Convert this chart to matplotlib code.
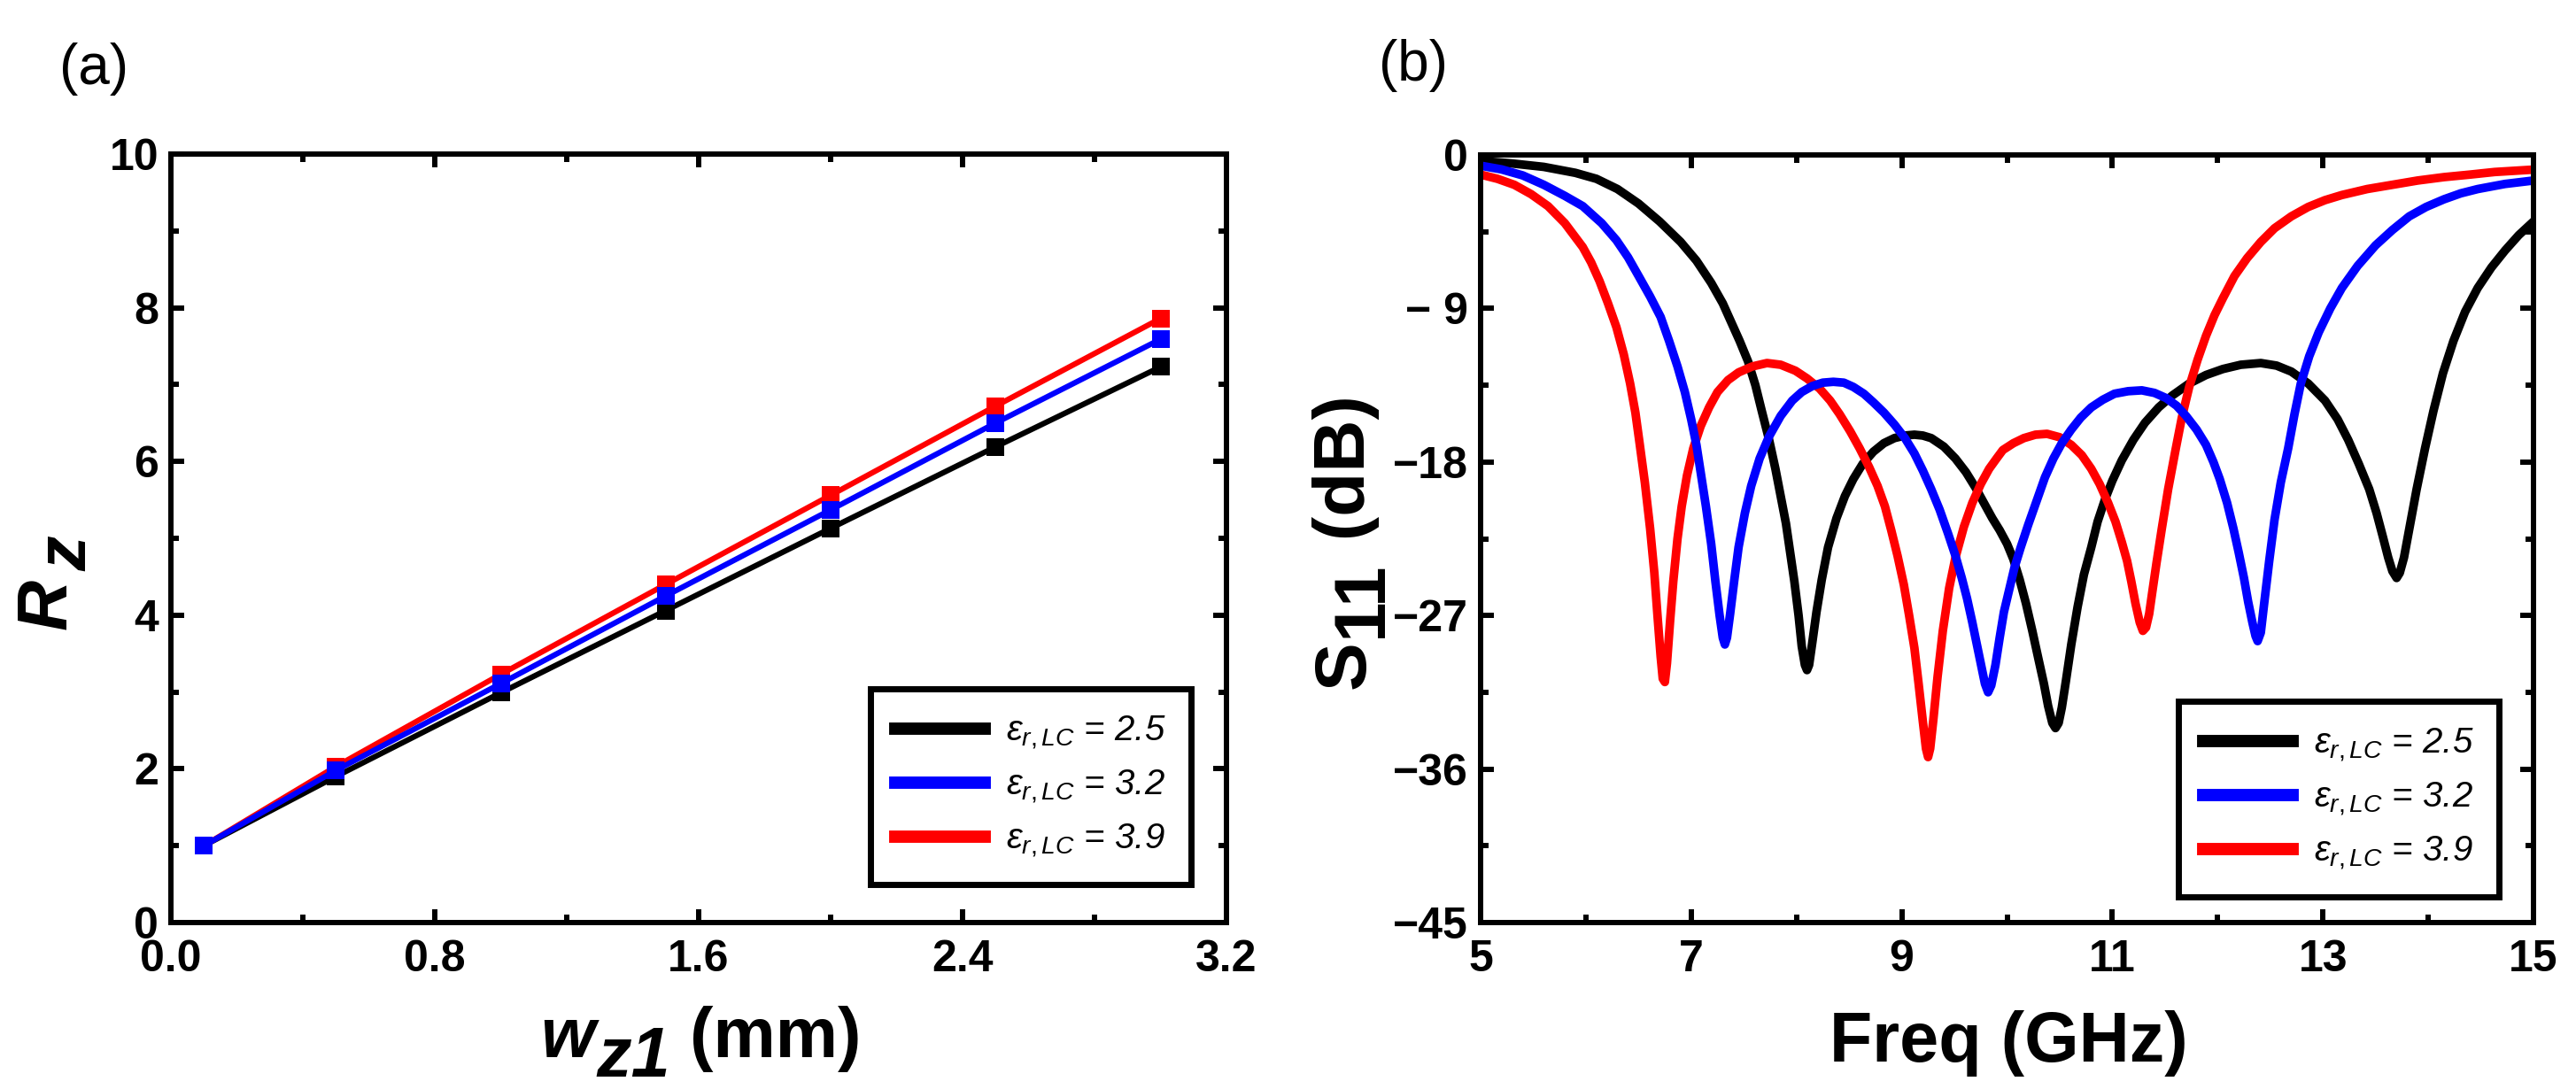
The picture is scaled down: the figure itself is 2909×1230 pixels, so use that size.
import matplotlib
matplotlib.use('Agg')
import matplotlib.pyplot as plt
from matplotlib.lines import Line2D
from matplotlib.ticker import MultipleLocator
from matplotlib.transforms import IdentityTransform

# ---- panel (a): R_z versus w_z1 ----
w_z1 = [0.1, 0.5, 1.0, 1.5, 2.0, 2.5, 3.0]
rz_25 = [1.0, 1.9, 2.99, 4.06, 5.13, 6.19, 7.23]
rz_32 = [1.0, 1.98, 3.11, 4.25, 5.37, 6.50, 7.59]
rz_39 = [1.0, 2.03, 3.23, 4.40, 5.56, 6.72, 7.86]

# ---- panel (b): S11 (dB) versus frequency (GHz) ----
f_25 = [5.00, 5.30, 5.60, 5.90, 6.10, 6.30, 6.50, 6.70, 6.90, 7.05, 7.19, 7.30,
        7.38, 7.46, 7.54, 7.61, 7.67, 7.74, 7.80, 7.85, 7.90, 7.94, 7.98, 8.02,
        8.05, 8.08, 8.10, 8.12, 8.15, 8.19, 8.24, 8.30, 8.38, 8.46, 8.54, 8.63,
        8.73, 8.83, 8.93, 9.03, 9.12, 9.20, 9.28, 9.40, 9.51, 9.61, 9.70, 9.78,
        9.86, 9.93, 10.00, 10.06, 10.12, 10.18, 10.24, 10.30, 10.35, 10.39, 10.43,
        10.46, 10.49, 10.52, 10.56, 10.61, 10.67, 10.73, 10.80, 10.86, 10.93, 11.00,
        11.09, 11.20, 11.31, 11.44, 11.57, 11.73, 11.89, 12.05, 12.22, 12.41, 12.56,
        12.70, 12.86, 13.02, 13.14, 13.24, 13.34, 13.44, 13.51, 13.57, 13.62, 13.66,
        13.70, 13.73, 13.77, 13.83, 13.89, 13.97, 14.05, 14.14, 14.24, 14.35, 14.47,
        14.60, 14.73, 14.86, 15.00]
s_25 = [-0.35, -0.5, -0.7, -1.05, -1.4, -2.0, -2.85, -3.9, -5.1, -6.2, -7.5, -8.7,
        -9.8, -10.9, -12.1, -13.5, -15.0, -16.7, -18.4, -20.0, -21.6, -23.3, -25.0, -27.0,
        -28.8, -29.9, -30.2, -29.9, -28.6, -26.8, -24.9, -23.0, -21.3, -20.0, -19.0, -18.1,
        -17.4, -16.9, -16.6, -16.45, -16.4, -16.45, -16.6, -17.1, -17.8, -18.6, -19.5, -20.4,
        -21.3, -22.0, -22.8, -23.7, -24.9, -26.3, -27.9, -29.6, -31.0, -32.3, -33.3,
        -33.6, -33.3, -32.4, -30.8, -28.7, -26.5, -24.6, -23.0, -21.5, -20.2, -19.1,
        -17.9, -16.7, -15.7, -14.8, -14.1, -13.4, -12.9, -12.55, -12.3, -12.2, -12.35,
        -12.7, -13.4, -14.4, -15.5, -16.7, -18.1, -19.6, -21.0, -22.4, -23.6, -24.4,
        -24.8, -24.5, -23.6, -21.6, -19.6, -17.2, -15.0, -12.8, -10.9, -9.2, -7.8,
        -6.6, -5.6, -4.7, -3.9]

f_32 = [5.00, 5.20, 5.40, 5.60, 5.80, 5.97, 6.15, 6.29, 6.40, 6.51, 6.61, 6.71,
        6.79, 6.87, 6.94, 7.00, 7.05, 7.09, 7.14, 7.19, 7.23, 7.27, 7.30, 7.32,
        7.34, 7.37, 7.41, 7.45, 7.51, 7.57, 7.65, 7.74, 7.85, 7.96, 8.05, 8.15,
        8.25, 8.35, 8.45, 8.54, 8.64, 8.73, 8.83, 8.93, 9.03, 9.12, 9.20, 9.28,
        9.36, 9.44, 9.51, 9.57, 9.62, 9.67, 9.72, 9.76, 9.79, 9.82, 9.85, 9.89,
        9.93, 9.97, 10.02, 10.07, 10.13, 10.20, 10.28, 10.36, 10.44, 10.52, 10.61,
        10.70, 10.80, 10.91, 11.02, 11.15, 11.28, 11.40, 11.51, 11.61, 11.70, 11.80,
        11.89, 11.96, 12.02, 12.09, 12.15, 12.20, 12.25, 12.29, 12.33, 12.36, 12.38,
        12.41, 12.44, 12.49, 12.54, 12.60, 12.67, 12.73, 12.79, 12.87, 12.96, 13.07,
        13.18, 13.33, 13.50, 13.66, 13.82, 13.98, 14.15, 14.31, 14.47, 14.73, 15.00]
s_32 = [-0.63, -0.85, -1.2, -1.75, -2.4, -3.0, -4.0, -5.0, -6.0, -7.2, -8.3, -9.5,
        -10.9, -12.4, -13.9, -15.5, -17.0, -18.6, -20.6, -22.8, -25.0, -27.0, -28.3, -28.7,
        -28.3, -26.9, -24.9, -23.0, -21.0, -19.4, -17.8, -16.5, -15.3, -14.4, -13.9, -13.55,
        -13.35, -13.3, -13.35, -13.6, -14.0, -14.5, -15.1, -15.8, -16.6, -17.5, -18.5, -19.6,
        -20.8, -22.2, -23.5, -24.8, -26.0, -27.4, -28.9, -30.1, -31.0, -31.5, -31.1, -29.9,
        -28.3, -26.8, -25.5, -24.2, -23.0, -21.7, -20.3, -18.9, -17.8, -16.9, -16.1,
        -15.4, -14.8, -14.35, -14.0, -13.85, -13.8, -13.95, -14.25, -14.7, -15.3, -16.1,
        -17.0, -18.0, -19.0, -20.4, -21.9, -23.3, -24.8, -26.2, -27.4, -28.2, -28.5,
        -28.0, -26.4, -23.8, -21.4, -19.2, -17.2, -15.2, -13.4, -11.8, -10.4, -9.0,
        -7.8, -6.5, -5.3, -4.4, -3.6, -3.05, -2.6, -2.25, -2.0, -1.7, -1.5]

f_39 = [5.00, 5.16, 5.32, 5.48, 5.64, 5.80, 5.97, 6.05, 6.13, 6.21, 6.29, 6.36,
        6.42, 6.47, 6.51, 6.56, 6.61, 6.65, 6.68, 6.71, 6.73, 6.75, 6.77, 6.80,
        6.83, 6.87, 6.91, 6.96, 7.02, 7.09, 7.17, 7.25, 7.35, 7.45, 7.58, 7.72,
        7.85, 7.99, 8.10, 8.22, 8.32, 8.41, 8.51, 8.60, 8.69, 8.77, 8.84, 8.90,
        8.96, 9.02, 9.07, 9.12, 9.16, 9.20, 9.23, 9.25, 9.27, 9.30, 9.34, 9.39,
        9.45, 9.51, 9.59, 9.67, 9.75, 9.83, 9.90, 9.96, 10.06, 10.16, 10.27, 10.38,
        10.50, 10.61, 10.71, 10.80, 10.88, 10.96, 11.03, 11.09, 11.14, 11.18, 11.22,
        11.26, 11.29, 11.32, 11.35, 11.38, 11.42, 11.47, 11.53, 11.60, 11.66, 11.73,
        11.81, 11.89, 11.97, 12.05, 12.16, 12.28, 12.41, 12.54, 12.70, 12.86, 13.02,
        13.18, 13.42, 13.66, 13.90, 14.15, 14.40, 14.63, 15.00]
s_39 = [-1.15, -1.4, -1.75, -2.3, -3.0, -4.0, -5.4, -6.3, -7.4, -8.7, -10.1, -11.7,
        -13.4, -15.1, -16.9, -19.2, -21.9, -24.5, -27.0, -29.4, -30.7, -30.9, -29.8, -27.3,
        -25.0, -22.5, -20.6, -18.8, -17.2, -15.9, -14.8, -13.9, -13.2, -12.75, -12.4, -12.2,
        -12.3, -12.65, -13.1, -13.7, -14.4, -15.2, -16.2, -17.2, -18.3, -19.4, -20.6, -22.0,
        -23.5, -25.2, -27.0, -28.9, -31.0, -33.2, -34.8, -35.3, -34.8, -33.1, -30.6, -27.9,
        -25.4, -23.6, -21.8, -20.4, -19.3, -18.4, -17.8, -17.3, -16.9, -16.6, -16.4, -16.35,
        -16.55, -17.0, -17.6, -18.4, -19.3, -20.4, -21.5, -22.7, -23.8, -25.0, -26.3,
        -27.4, -27.9, -27.7, -26.9, -25.6, -23.9, -21.9, -19.6, -17.3, -15.4, -13.6,
        -12.0, -10.6, -9.4, -8.4, -7.1, -6.05, -5.1, -4.3, -3.6, -3.05, -2.65,
        -2.35, -2.0, -1.75, -1.5, -1.3, -1.15, -1.0, -0.86]

eps_values = ['2.5', '3.2', '3.9']
colors = ['black', '#0000ff', '#ff0000']

a_xticks = [0.0, 0.8, 1.6, 2.4, 3.2]
a_xticklabels = ['0.0', '0.8', '1.6', '2.4', '3.2']
a_yticks = [0, 2, 4, 6, 8, 10]
b_xticks = [5, 7, 9, 11, 13, 15]
b_yticks = [-45, -36, -27, -18, -9, 0]
b_yticklabels = ['\u221245', '\u221236', '\u221227', '\u221218', '\u2212 9', '0']

plt.rcParams['font.family'] = ['Liberation Sans', 'DejaVu Sans']
plt.rcParams['mathtext.fontset'] = 'custom'
plt.rcParams['mathtext.rm'] = 'Liberation Sans'
plt.rcParams['mathtext.it'] = 'Liberation Sans:italic'

W, H = 2909, 1230
fig = plt.figure(figsize=(W / 100, H / 100), dpi=100)

ax1 = fig.add_axes([193 / W, 1 - 1042 / H, 1192 / W, 868 / H])
ax2 = fig.add_axes([1672 / W, 1 - 1042 / H, 1189 / W, 867 / H])


def style_axes(ax):
    for sp in ax.spines.values():
        sp.set_linewidth(4.3)
    ax.tick_params(which='both', direction='in', top=True, right=True, width=4.3)
    ax.tick_params(which='major', length=11)
    ax.tick_params(which='minor', length=6.5)
    ax.tick_params(axis='x', pad=14)
    ax.tick_params(axis='y', pad=10)
    for lab in ax.get_xticklabels() + ax.get_yticklabels():
        lab.set_fontsize(36)
        lab.set_fontweight('bold')


def make_legend(ax, anchor):
    handles = [Line2D([], [], color=c, lw=10) for c in colors]
    labels = [r'$\varepsilon_{r,LC}$ = ' + v for v in eps_values]
    leg = ax.legend(handles, labels, loc='lower right', bbox_to_anchor=anchor,
                    borderaxespad=0, fancybox=False, framealpha=1,
                    edgecolor='black', handlelength=2.5, handletextpad=0.6,
                    labelspacing=0.47, borderpad=0.7,
                    prop=dict(family='Liberation Sans', style='italic',
                              weight='normal', size=29))
    leg.get_frame().set_linewidth(5)


# panel (a)
for ys, c in [(rz_25, colors[0]), (rz_39, colors[2]), (rz_32, colors[1])]:
    ax1.plot(w_z1, ys, color=c, lw=4.5, marker='s', ms=15, mew=0)
ax1.set_xlim(0, 3.2)
ax1.set_ylim(0, 10)
ax1.set_xticks(a_xticks)
ax1.set_xticklabels(a_xticklabels)
ax1.set_yticks(a_yticks)
ax1.xaxis.set_minor_locator(MultipleLocator(0.4))
ax1.yaxis.set_minor_locator(MultipleLocator(1))
style_axes(ax1)
make_legend(ax1, ((1345 - 193) / 1192, (1042 - 999) / 868))

# panel (b)
for fs, ss, c in [(f_25, s_25, colors[0]), (f_39, s_39, colors[2]), (f_32, s_32, colors[1])]:
    ax2.plot(fs, ss, color=c, lw=7, solid_joinstyle='round')
ax2.set_xlim(5, 15)
ax2.set_ylim(-45, 0)
ax2.set_xticks(b_xticks)
ax2.set_yticks(b_yticks)
ax2.set_yticklabels(b_yticklabels)
ax2.xaxis.set_minor_locator(MultipleLocator(1))
ax2.yaxis.set_minor_locator(MultipleLocator(4.5))
style_axes(ax2)
make_legend(ax2, ((2822 - 1672) / 1189, (1042 - 1013) / 867))


# axis titles with lowered subscripts, laid out piece by piece (pixel coords)
renderer = fig.canvas.get_renderer()


def compound(pieces, center, base, vertical=False, size=57):
    items = []
    for s, drop, gap, kw in pieces:
        t = fig.text(0, 0, s, transform=IdentityTransform(), ha='left',
                     va='baseline', rotation=90 if vertical else 0,
                     rotation_mode='anchor', fontsize=size, **kw)
        bb = t.get_window_extent(renderer)
        items.append((t, drop, gap, bb.height if vertical else bb.width))
    pos = center - sum(i[2] + i[3] for i in items) / 2
    for t, drop, gap, length in items:
        pos += gap
        if vertical:
            t.set_position((base + drop, pos))
        else:
            t.set_position((pos, base - drop))
        pos += length


bi = dict(fontweight='bold', fontstyle='italic')
bd = dict(fontweight='bold')
compound([('w', 0, 0, bi), ('z1', 22, 2, bi), (' (mm)', 0, 0, bd)], 791, H - 1194)
compound([('Freq (GHz)', 0, 0, bd)], 2268, H - 1199)
compound([('R', 0, 0, bi), ('z', 22, 9, bi)], H - 658, 75, vertical=True)
compound([('S', 0, 0, bd), ('11', 19, 3, bd), (' (dB)', 0, 0, bd)], H - 612, 1541,
         vertical=True, size=59)

fig.text(67 / W, 1 - 95 / H, '(a)', fontsize=46)
fig.text(1557 / W, 1 - 91 / H, '(b)', fontsize=46)

fig.savefig('out.png', dpi=100)
